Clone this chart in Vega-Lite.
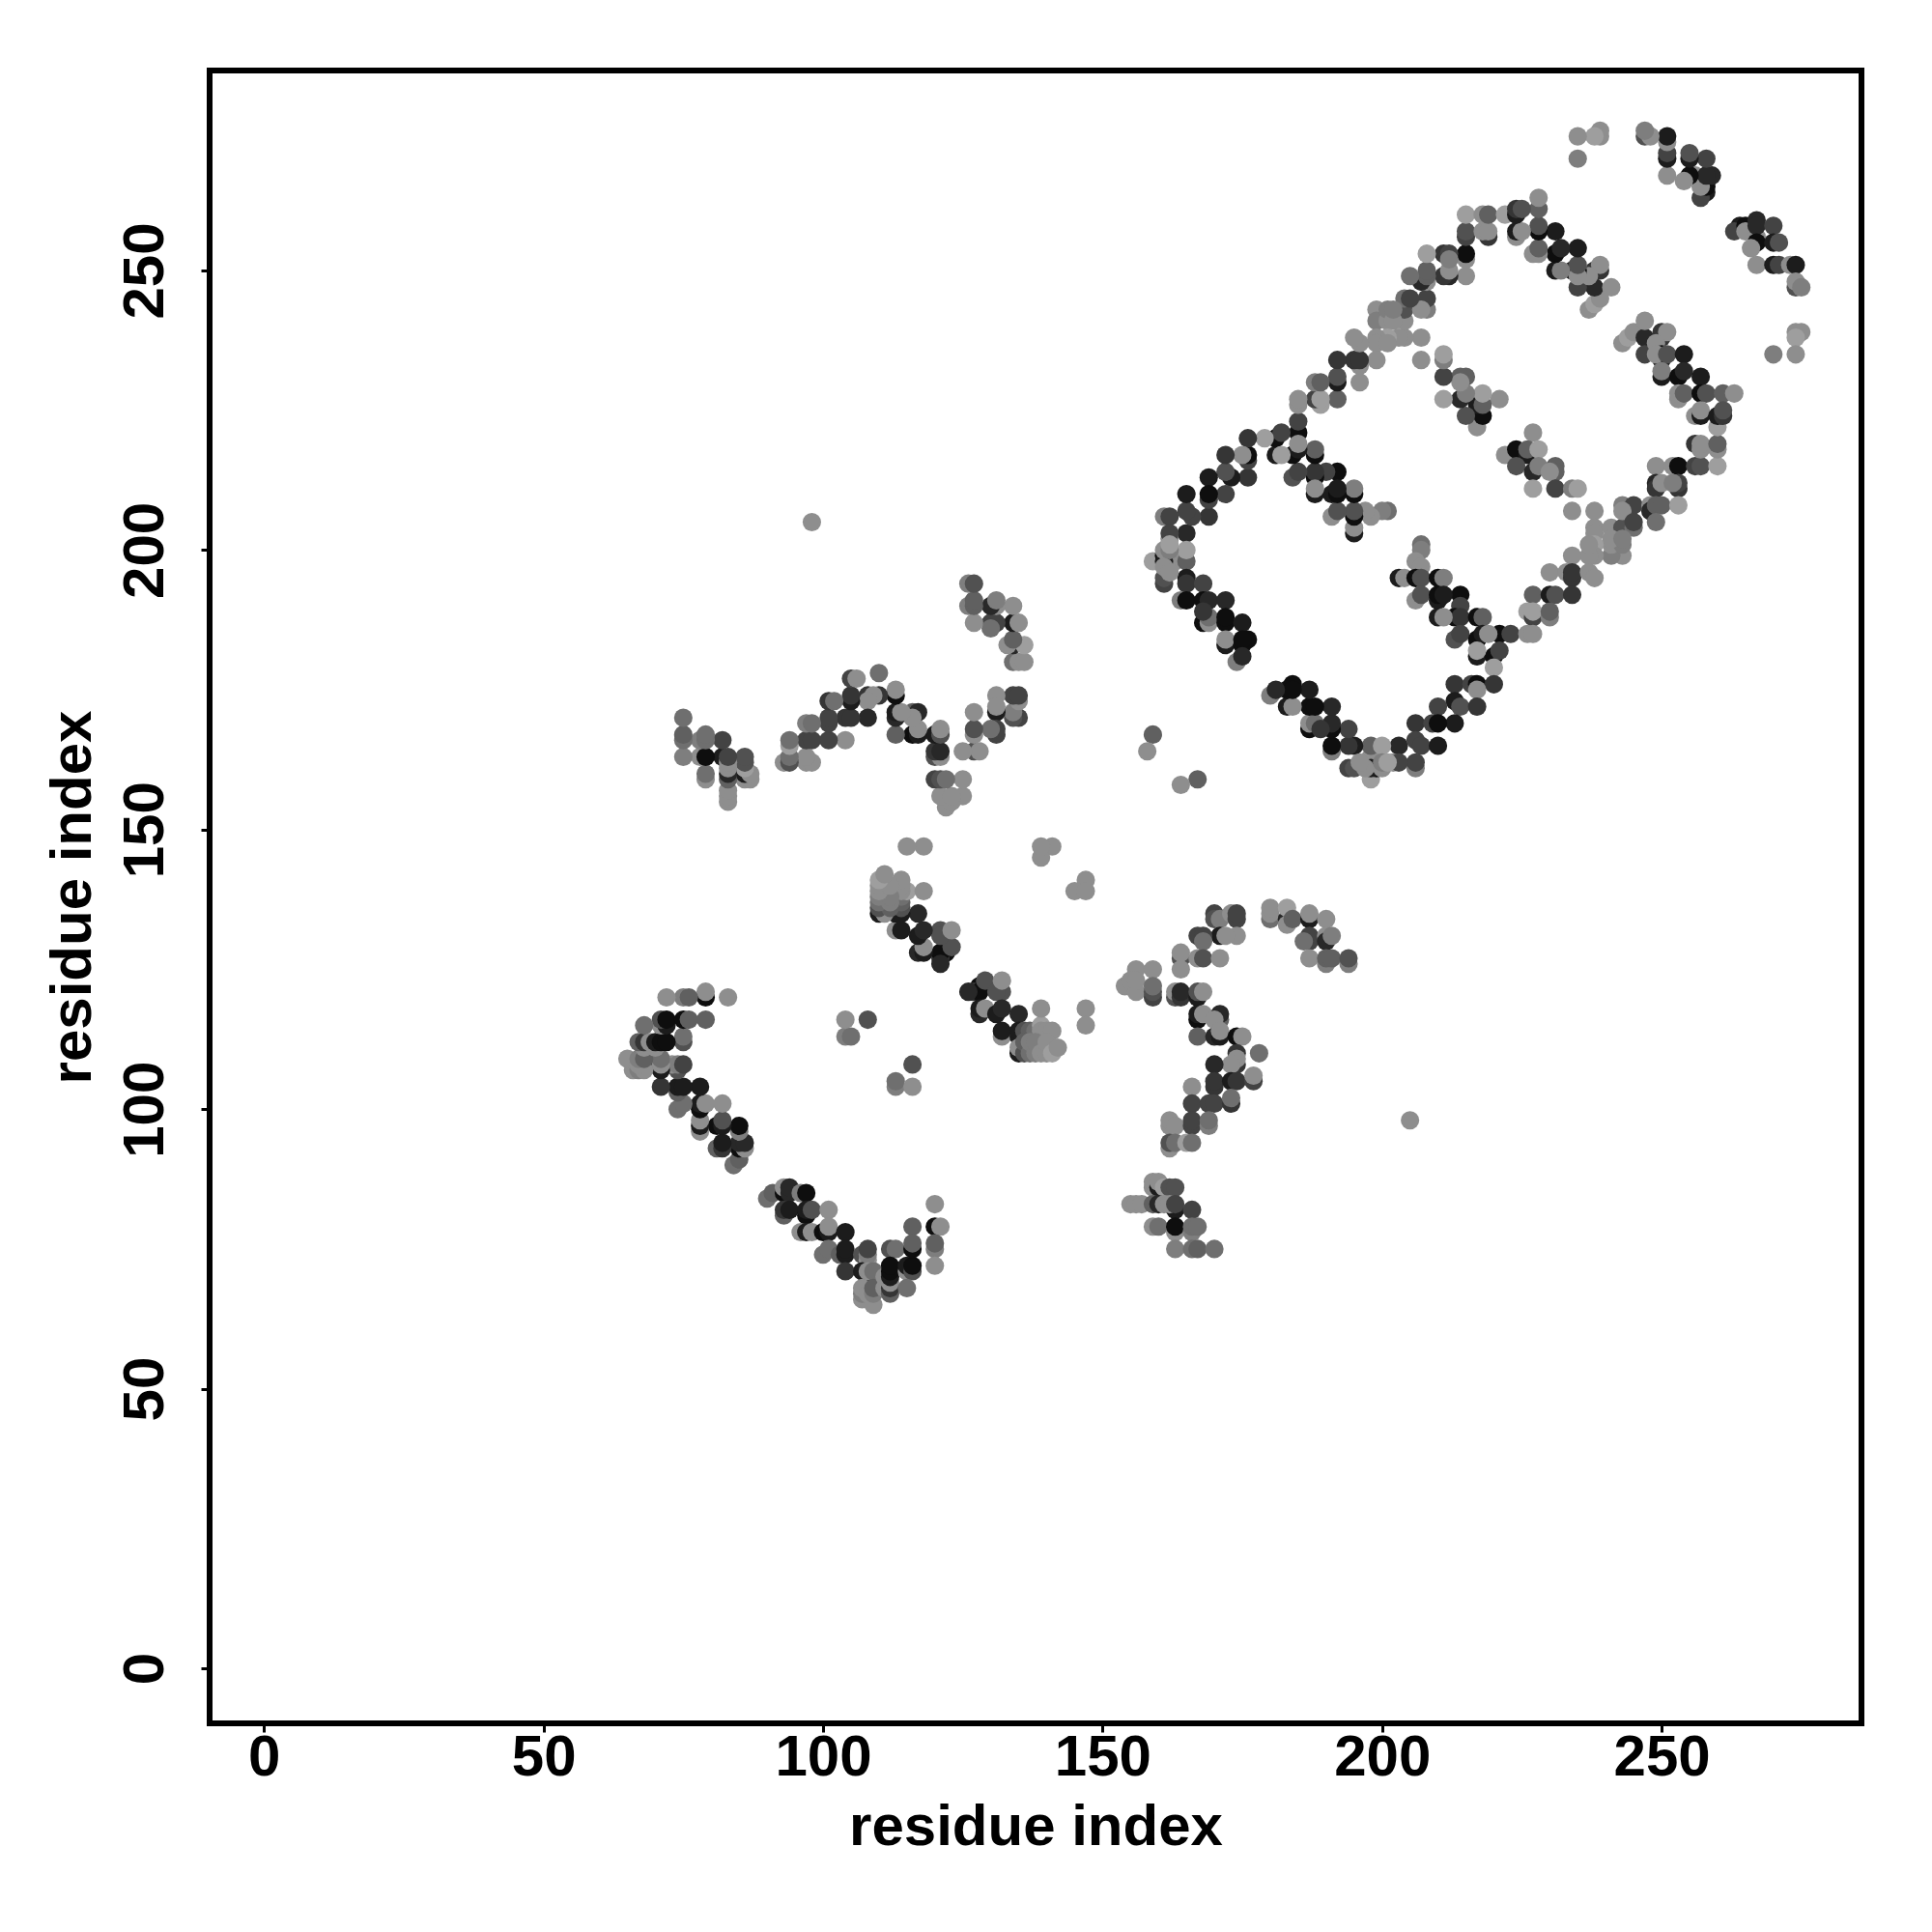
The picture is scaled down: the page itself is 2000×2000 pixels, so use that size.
{"$schema":"https://vega.github.io/schema/vega-lite/v6.json","width":1710,"height":1711,"autosize":"none","padding":{"left":217,"top":73,"right":73,"bottom":216},"background":"white","config":{"view":{"stroke":"black","strokeWidth":6},"axis":{"grid":false,"domain":false,"ticks":true,"tickSize":9,"tickWidth":3,"tickColor":"black","labelFont":"Liberation Sans","labelFontWeight":"bold","labelFontSize":60,"labelColor":"black","titleFont":"Liberation Sans","titleFontWeight":"bold","titleFontSize":60,"titleColor":"black"}},"data":{"values":[
{"a":227,"b":221,"s":9},{"a":222,"b":217,"s":9},{"a":224,"b":218,"s":0},{"a":226,"b":217,"s":1},{"a":226,"b":218,"s":6},{"a":228,"b":218,"s":10},{"a":224,"b":215,"s":5},{"a":227,"b":214,"s":2},{"a":228,"b":215,"s":8},{"a":231,"b":215,"s":6},{"a":231,"b":214,"s":6},{"a":230,"b":214,"s":9},{"a":227,"b":211,"s":10},{"a":231,"b":211,"s":4},{"a":234,"b":211,"s":8},{"a":235,"b":211,"s":10},{"a":234,"b":207,"s":9},{"a":238,"b":207,"s":9},
{"a":238,"b":204,"s":9},{"a":238,"b":203,"s":9},{"a":241,"b":204,"s":9},{"a":243,"b":204,"s":5},{"a":243,"b":208,"s":8},{"a":245,"b":208,"s":4},{"a":243,"b":207,"s":9},{"a":245,"b":204,"s":7},{"a":245,"b":205,"s":4},{"a":249,"b":215,"s":9},{"a":252,"b":215,"s":9},{"a":253,"b":215,"s":0},{"a":256,"b":215,"s":4},{"a":257,"b":215,"s":5},{"a":260,"b":215,"s":10},{"a":249,"b":212,"s":2},{"a":249,"b":211,"s":3},{"a":250,"b":212,"s":9},{"a":253,"b":211,"s":3},{"a":253,"b":212,"s":4},{"a":252,"b":212,"s":8},{"a":256,"b":219,"s":3},{"a":257,"b":218,"s":9},{"a":257,"b":219,"s":9},{"a":260,"b":218,"s":9},{"a":260,"b":219,"s":6},{"a":260,"b":222,"s":10},{"a":248,"b":208,"s":9},{"a":248,"b":207,"s":2},{"a":249,"b":208,"s":6},{"a":250,"b":208,"s":6},{"a":253,"b":208,"s":10},{"a":249,"b":205,"s":7},
{"a":243,"b":199,"s":9},{"a":241,"b":199,"s":8},{"a":241,"b":201,"s":9},{"a":243,"b":201,"s":8},{"a":241,"b":202,"s":9},{"a":243,"b":202,"s":8},{"a":238,"b":201,"s":10},{"a":238,"b":199,"s":9},{"a":237,"b":199,"s":9},{"a":237,"b":201,"s":9},{"a":234,"b":199,"s":9},{"a":230,"b":196,"s":9},{"a":233,"b":196,"s":9},{"a":234,"b":195,"s":3},{"a":234,"b":196,"s":3},{"a":237,"b":196,"s":9},{"a":238,"b":195,"s":9},{"a":227,"b":192,"s":6},{"a":230,"b":192,"s":1},{"a":231,"b":192,"s":5},{"a":234,"b":192,"s":3},{"a":226,"b":189,"s":10},{"a":227,"b":188,"s":4},{"a":227,"b":189,"s":10},{"a":230,"b":188,"s":8},{"a":230,"b":189,"s":6},{"a":221,"b":185,"s":0},{"a":223,"b":185,"s":4},{"a":226,"b":185,"s":9},{"a":227,"b":185,"s":9},
{"a":214,"b":192,"s":0},{"a":214,"b":190,"s":4},{"a":213,"b":188,"s":0},{"a":214,"b":188,"s":3},{"a":217,"b":188,"s":0},{"a":218,"b":188,"s":6},{"a":213,"b":184,"s":5},{"a":214,"b":185,"s":4},{"a":217,"b":184,"s":0},{"a":218,"b":185,"s":1},{"a":219,"b":185,"s":9},{"a":217,"b":181,"s":1},{"a":220,"b":181,"s":0},{"a":217,"b":182,"s":10},{"a":221,"b":182,"s":4},{"a":220,"b":179,"s":10},{"a":213,"b":176,"s":3},{"a":216,"b":176,"s":4},{"a":217,"b":176,"s":0},{"a":220,"b":176,"s":3},{"a":217,"b":175,"s":9},{"a":213,"b":173,"s":1},{"a":214,"b":172,"s":5},{"a":217,"b":172,"s":3},{"a":213,"b":169,"s":1},
{"a":207,"b":201,"s":7},{"a":207,"b":200,"s":8},{"a":206,"b":198,"s":9},{"a":207,"b":197,"s":9},{"a":203,"b":195,"s":1},{"a":204,"b":195,"s":9},{"a":206,"b":195,"s":0},{"a":207,"b":195,"s":5},{"a":210,"b":195,"s":0},{"a":211,"b":195,"s":8},{"a":206,"b":191,"s":9},{"a":207,"b":192,"s":5},{"a":210,"b":191,"s":1},{"a":210,"b":192,"s":0},{"a":211,"b":192,"s":1},{"a":210,"b":188,"s":1},{"a":211,"b":188,"s":9},
{"a":210,"b":172,"s":4},{"a":206,"b":169,"s":3},{"a":209,"b":169,"s":4},{"a":210,"b":169,"s":0},{"a":203,"b":165,"s":2},{"a":206,"b":166,"s":4},{"a":207,"b":165,"s":4},{"a":210,"b":165,"s":1},{"a":206,"b":161,"s":8},{"a":206,"b":162,"s":4},{"a":202,"b":162,"s":9},{"a":203,"b":162,"s":4},{"a":198,"b":163,"s":9},{"a":198,"b":165,"s":6},{"a":200,"b":165,"s":10},{"a":198,"b":159,"s":10},{"a":195,"b":165,"s":1},{"a":194,"b":165,"s":3},{"a":191,"b":164,"s":8},{"a":191,"b":165,"s":0},{"a":199,"b":161,"s":0},{"a":198,"b":161,"s":1},{"a":194,"b":161,"s":4},{"a":195,"b":161,"s":5},{"a":197,"b":161,"s":9},{"a":196,"b":162,"s":9},{"a":200,"b":161,"s":9},{"a":200,"b":162,"s":8},{"a":201,"b":162,"s":10},
{"a":194,"b":168,"s":4},{"a":191,"b":168,"s":0},{"a":191,"b":169,"s":2},{"a":187,"b":168,"s":0},{"a":187,"b":169,"s":9},{"a":188,"b":169,"s":7},{"a":189,"b":168,"s":3},{"a":191,"b":172,"s":2},{"a":187,"b":172,"s":0},{"a":188,"b":172,"s":0},{"a":183,"b":172,"s":1},{"a":184,"b":172,"s":9},{"a":187,"b":175,"s":1},{"a":184,"b":176,"s":0},{"a":183,"b":175,"s":0},{"a":184,"b":175,"s":0},{"a":180,"b":174,"s":8},{"a":181,"b":175,"s":2},
{"a":264,"b":258,"s":1},{"a":263,"b":257,"s":4},{"a":265,"b":258,"s":0},{"a":265,"b":257,"s":9},{"a":267,"b":256,"s":9},{"a":267,"b":259,"s":2},{"a":267,"b":258,"s":2},{"a":270,"b":258,"s":4},{"a":267,"b":255,"s":0},{"a":266,"b":254,"s":9},{"a":270,"b":255,"s":1},{"a":271,"b":255,"s":5},{"a":267,"b":251,"s":9},{"a":270,"b":251,"s":1},{"a":271,"b":251,"s":4},{"a":273,"b":251,"s":9},{"a":274,"b":251,"s":1},{"a":274,"b":247,"s":5},{"a":274,"b":248,"s":9},{"a":275,"b":247,"s":8},{"a":274,"b":239,"s":9},{"a":275,"b":239,"s":9},{"a":274,"b":238,"s":10},{"a":274,"b":235,"s":9},{"a":270,"b":235,"s":8},
{"a":243,"b":237,"s":9},{"a":244,"b":238,"s":10},{"a":245,"b":239,"s":9},{"a":247,"b":238,"s":2},{"a":247,"b":241,"s":9},{"a":247,"b":235,"s":4},{"a":250,"b":239,"s":3},{"a":250,"b":238,"s":3},{"a":251,"b":239,"s":9},{"a":249,"b":237,"s":9},{"a":250,"b":234,"s":1},{"a":250,"b":235,"s":0},{"a":249,"b":235,"s":9},{"a":251,"b":235,"s":5},{"a":254,"b":235,"s":1},{"a":250,"b":231,"s":1},{"a":250,"b":232,"s":8},{"a":253,"b":231,"s":0},{"a":254,"b":232,"s":2},{"a":257,"b":231,"s":1},{"a":253,"b":227,"s":9},{"a":253,"b":228,"s":9},{"a":254,"b":228,"s":6},{"a":257,"b":228,"s":0},{"a":258,"b":228,"s":5},{"a":261,"b":228,"s":6},{"a":263,"b":228,"s":9},{"a":256,"b":224,"s":9},{"a":257,"b":224,"s":1},{"a":257,"b":225,"s":9},{"a":260,"b":224,"s":1},{"a":261,"b":224,"s":3},{"a":261,"b":225,"s":5},
{"a":170,"b":135,"s":4},{"a":170,"b":134,"s":5},{"a":171,"b":134,"s":8},{"a":173,"b":135,"s":9},{"a":174,"b":134,"s":4},{"a":174,"b":135,"s":4},{"a":174,"b":131,"s":9},{"a":171,"b":131,"s":1},{"a":172,"b":131,"s":9},{"a":167,"b":131,"s":4},{"a":168,"b":131,"s":4},{"a":168,"b":130,"s":7},{"a":164,"b":127,"s":5},{"a":164,"b":128,"s":9},{"a":164,"b":125,"s":9},{"a":167,"b":127,"s":9},{"a":168,"b":127,"s":5},{"a":171,"b":127,"s":9},
{"a":180,"b":134,"s":7},{"a":180,"b":135,"s":9},{"a":180,"b":136,"s":9},{"a":183,"b":134,"s":2},{"a":183,"b":133,"s":9},{"a":183,"b":136,"s":10},{"a":184,"b":134,"s":6},{"a":187,"b":134,"s":1},{"a":187,"b":135,"s":9},{"a":190,"b":134,"s":9},{"a":187,"b":130,"s":4},{"a":187,"b":131,"s":4},{"a":186,"b":130,"s":7},{"a":190,"b":131,"s":9},{"a":190,"b":130,"s":2},{"a":191,"b":131,"s":8},{"a":187,"b":127,"s":9},{"a":190,"b":126,"s":8},{"a":190,"b":127,"s":6},{"a":191,"b":127,"s":6},{"a":194,"b":126,"s":8},{"a":194,"b":127,"s":5},
{"a":156,"b":125,"s":9},{"a":159,"b":125,"s":9},{"a":154,"b":122,"s":9},{"a":155,"b":123,"s":9},{"a":156,"b":121,"s":9},{"a":156,"b":123,"s":9},{"a":159,"b":120,"s":4},{"a":159,"b":121,"s":5},{"a":159,"b":122,"s":7},
{"a":163,"b":120,"s":5},{"a":163,"b":121,"s":9},{"a":164,"b":120,"s":3},{"a":164,"b":121,"s":2},{"a":167,"b":120,"s":1},{"a":167,"b":121,"s":5},{"a":168,"b":121,"s":9},{"a":167,"b":116,"s":0},{"a":167,"b":117,"s":1},{"a":168,"b":117,"s":9},{"a":171,"b":116,"s":6},{"a":171,"b":117,"s":2},{"a":170,"b":116,"s":9},{"a":167,"b":113,"s":6},{"a":170,"b":113,"s":2},{"a":171,"b":113,"s":1},{"a":171,"b":114,"s":9},{"a":174,"b":113,"s":0},{"a":175,"b":113,"s":9},{"a":178,"b":110,"s":7},{"a":174,"b":108,"s":3},{"a":174,"b":110,"s":3},{"a":174,"b":109,"s":9},{"a":173,"b":108,"s":9},{"a":170,"b":108,"s":2},{"a":170,"b":104,"s":3},{"a":170,"b":105,"s":3},{"a":173,"b":105,"s":1},{"a":174,"b":105,"s":3},{"a":177,"b":105,"s":4},{"a":177,"b":106,"s":9},{"a":166,"b":104,"s":9},{"a":166,"b":101,"s":4},{"a":169,"b":101,"s":4},{"a":170,"b":101,"s":4},{"a":173,"b":101,"s":3},{"a":173,"b":102,"s":7},{"a":162,"b":97,"s":9},{"a":162,"b":98,"s":9},{"a":163,"b":97,"s":9},{"a":166,"b":97,"s":4},{"a":166,"b":98,"s":4},{"a":169,"b":97,"s":8},{"a":169,"b":98,"s":7},{"a":162,"b":93,"s":9},{"a":162,"b":94,"s":5},{"a":163,"b":94,"s":7},{"a":165,"b":94,"s":10},{"a":166,"b":94,"s":7},
{"a":159,"b":86,"s":9},{"a":159,"b":87,"s":9},{"a":160,"b":86,"s":1},{"a":160,"b":87,"s":9},{"a":161,"b":86,"s":10},{"a":162,"b":86,"s":5},{"a":163,"b":86,"s":5},{"a":155,"b":83,"s":9},{"a":156,"b":83,"s":9},{"a":157,"b":83,"s":9},{"a":159,"b":83,"s":6},{"a":160,"b":83,"s":2},{"a":161,"b":83,"s":9},{"a":163,"b":82,"s":1},{"a":162,"b":83,"s":9},{"a":163,"b":83,"s":4},{"a":166,"b":82,"s":4},{"a":159,"b":79,"s":9},{"a":160,"b":79,"s":7},{"a":163,"b":78,"s":9},{"a":163,"b":79,"s":0},{"a":166,"b":78,"s":8},{"a":166,"b":79,"s":7},{"a":167,"b":79,"s":7},{"a":163,"b":75,"s":8},{"a":166,"b":75,"s":7},{"a":167,"b":75,"s":6},{"a":170,"b":75,"s":7},
{"a":205,"b":98,"s":9},{"a":167,"b":159,"s":6},{"a":164,"b":158,"s":9},
{"a":116,"b":108,"s":5},{"a":113,"b":104,"s":8},{"a":113,"b":105,"s":7},{"a":116,"b":104,"s":9},
{"a":128,"b":122,"s":0},{"a":127,"b":121,"s":3},{"a":128,"b":121,"s":0},{"a":126,"b":121,"s":2},{"a":129,"b":123,"s":5},{"a":132,"b":121,"s":5},{"a":131,"b":121,"s":5},{"a":132,"b":123,"s":9},{"a":128,"b":117,"s":2},{"a":128,"b":118,"s":1},{"a":129,"b":118,"s":9},{"a":131,"b":117,"s":1},{"a":132,"b":118,"s":2},{"a":135,"b":117,"s":2},{"a":132,"b":113,"s":9},{"a":132,"b":114,"s":1},{"a":135,"b":113,"s":1},{"a":135,"b":114,"s":1},{"a":136,"b":114,"s":5},{"a":137,"b":114,"s":6},{"a":138,"b":114,"s":7},{"a":139,"b":115,"s":10},{"a":139,"b":114,"s":9},{"a":140,"b":114,"s":9},{"a":141,"b":114,"s":9},{"a":139,"b":118,"s":9},{"a":135,"b":110,"s":1},{"a":135,"b":111,"s":9},{"a":136,"b":110,"s":5},{"a":136,"b":112,"s":6},{"a":137,"b":110,"s":7},{"a":137,"b":112,"s":8},{"a":138,"b":110,"s":8},{"a":138,"b":112,"s":8},{"a":139,"b":110,"s":9},{"a":140,"b":110,"s":9},{"a":140,"b":112,"s":9},{"a":141,"b":110,"s":10},{"a":142,"b":111,"s":9},{"a":147,"b":118,"s":9},{"a":147,"b":115,"s":9},{"a":147,"b":141,"s":9},{"a":145,"b":139,"s":9},{"a":147,"b":139,"s":9},
{"a":90,"b":84,"s":7},{"a":91,"b":85,"s":6},{"a":93,"b":85,"s":0},{"a":93,"b":86,"s":9},{"a":94,"b":85,"s":2},{"a":94,"b":86,"s":2},{"a":96,"b":85,"s":8},{"a":97,"b":85,"s":0},{"a":93,"b":81,"s":6},{"a":93,"b":82,"s":3},{"a":94,"b":82,"s":1},{"a":97,"b":81,"s":0},{"a":97,"b":82,"s":1},{"a":98,"b":82,"s":5},{"a":101,"b":82,"s":9},{"a":96,"b":78,"s":9},{"a":97,"b":78,"s":1},{"a":98,"b":78,"s":9},{"a":100,"b":78,"s":0},{"a":101,"b":78,"s":1},{"a":101,"b":79,"s":9},{"a":104,"b":78,"s":1},{"a":100,"b":74,"s":7},{"a":101,"b":75,"s":7},{"a":103,"b":74,"s":6},{"a":104,"b":74,"s":1},{"a":104,"b":75,"s":1},{"a":104,"b":71,"s":3},{"a":107,"b":74,"s":5},{"a":108,"b":73,"s":9},{"a":108,"b":74,"s":8},{"a":108,"b":75,"s":4},{"a":107,"b":71,"s":1},{"a":108,"b":70,"s":1},{"a":108,"b":71,"s":9},{"a":109,"b":71,"s":7},{"a":107,"b":66,"s":9},{"a":107,"b":67,"s":8},{"a":107,"b":68,"s":9},{"a":109,"b":65,"s":9},{"a":108,"b":67,"s":9},{"a":109,"b":67,"s":8},{"a":109,"b":68,"s":6},{"a":111,"b":68,"s":9},{"a":112,"b":75,"s":5},{"a":113,"b":75,"s":7},{"a":112,"b":67,"s":6},{"a":112,"b":68,"s":3},{"a":112,"b":69,"s":9},{"a":111,"b":70,"s":9},{"a":112,"b":70,"s":1},{"a":112,"b":71,"s":0},{"a":112,"b":72,"s":0},{"a":115,"b":71,"s":9},{"a":115,"b":72,"s":1},{"a":116,"b":71,"s":5},{"a":116,"b":72,"s":0},{"a":115,"b":68,"s":7},{"a":116,"b":79,"s":6},{"a":116,"b":75,"s":0},{"a":116,"b":76,"s":6},{"a":120,"b":83,"s":9},{"a":120,"b":79,"s":0},{"a":121,"b":79,"s":9},{"a":120,"b":75,"s":8},{"a":120,"b":76,"s":6},{"a":120,"b":72,"s":9}
]},"layer":[
{"mark":{"type":"point","filled":true,"opacity":1,"size":365},"encoding":{"x":{"field":"a","type":"quantitative","scale":{"domain":[-9.73,285.76],"nice":false,"zero":false},"axis":{"values":[0,50,100,150,200,250],"title":"residue index","labelPadding":-3,"titlePadding":13}},"y":{"field":"b","type":"quantitative","scale":{"domain":[-9.85,285.77],"nice":false,"zero":false},"axis":{"values":[0,50,100,150,200,250],"title":"residue index","labelAngle":-90,"labelAlign":"center","labelBaseline":"bottom","labelPadding":27,"titlePadding":14}},"color":{"field":"s","type":"quantitative","scale":{"domain":[0,10],"range":["#0e0e0e","#9e9e9e"]},"legend":null}}},
{"mark":{"type":"point","filled":true,"opacity":1,"size":365},"encoding":{"x":{"field":"b","type":"quantitative","scale":{"domain":[-9.73,285.76],"nice":false,"zero":false},"axis":{"values":[0,50,100,150,200,250],"title":"residue index","labelPadding":-3,"titlePadding":13}},"y":{"field":"a","type":"quantitative","scale":{"domain":[-9.85,285.77],"nice":false,"zero":false},"axis":{"values":[0,50,100,150,200,250],"title":"residue index","labelAngle":-90,"labelAlign":"center","labelBaseline":"bottom","labelPadding":27,"titlePadding":14}},"color":{"field":"s","type":"quantitative","scale":{"domain":[0,10],"range":["#0e0e0e","#9e9e9e"]},"legend":null}}}
]}
